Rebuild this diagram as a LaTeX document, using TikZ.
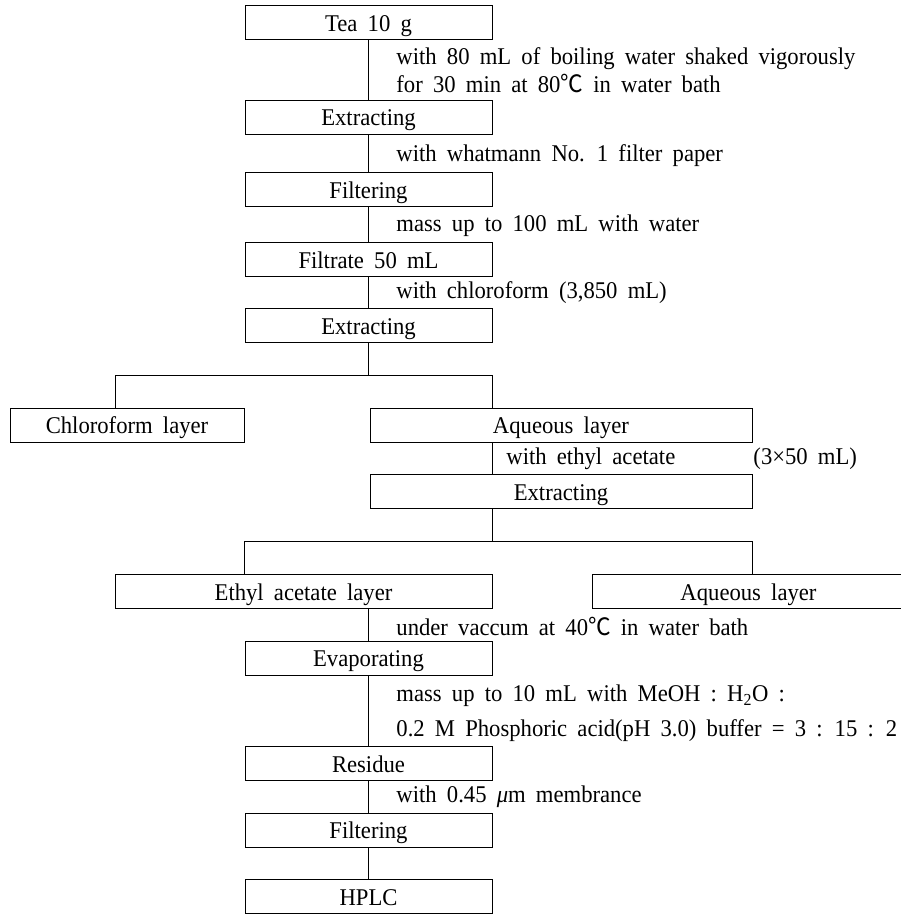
\documentclass[tikz,border=0pt]{standalone}
\usepackage{fontspec}
\setmainfont[WordSpace=1.8,FakeStretch=0.944]{Liberation Serif}
\newfontfamily\cjk[FakeStretch=0.944]{Noto Sans CJK SC}
\begin{document}
\begin{tikzpicture}[x=1pt,y=-1pt,line width=0.9pt,
  every node/.style={font=\fontsize{24}{26}\selectfont},
  box/.style={draw,rectangle,inner sep=0pt,minimum height=34pt,text height=19pt,text depth=2pt},
  mainbox/.style={box,minimum width=247pt},
  lbl/.style={anchor=west,inner sep=0pt}]
\useasboundingbox (0,0) rectangle (901,914);
% main column boxes
\node[mainbox] (tea)   at (368.5,22.5) {Tea 10 g};
\node[mainbox] (ext1)  at (368.5,117)  {Extracting};
\node[mainbox] (filt1) at (368.5,189.5){Filtering};
\node[mainbox] (filtr) at (368.5,259.5){Filtrate 50 mL};
\node[mainbox] (ext2)  at (368.5,325.5){Extracting};
\node[box,minimum width=234pt] (chl) at (127,425) {Chloroform layer};
\node[box,minimum width=382pt] (aq1) at (561,425) {Aqueous layer};
\node[box,minimum width=382pt] (ext3) at (561,491.5) {Extracting};
\node[box,minimum width=377pt] (eth) at (303.5,591.5) {Ethyl acetate layer};
\node[box,minimum width=313pt] (aq2) at (748.5,591.5) {Aqueous layer};
\node[mainbox] (evap)  at (368.5,658)  {Evaporating};
\node[mainbox] (res)   at (368.5,763.5){Residue};
\node[mainbox] (filt2) at (368.5,830)  {Filtering};
\node[mainbox] (hplc)  at (368.5,896.5){HPLC};
% connectors
\draw (tea) -- (ext1);
\draw (ext1) -- (filt1);
\draw (filt1) -- (filtr);
\draw (filtr) -- (ext2);
\coordinate (b1l) at (115,375);
\coordinate (b1r) at (492,375);
\draw (ext2.south) -- (ext2.south |- b1l);
\draw (chl.north -| b1l) -- (b1l) -- (b1r) -- (aq1.north -| b1r);
\draw (aq1.south -| b1r) -- (ext3.north -| b1r);
\coordinate (b2l) at (244,541);
\coordinate (b2r) at (752,541);
\draw (ext3.south -| b1r) -- (b2l -| b1r);
\draw (eth.north -| b2l) -- (b2l) -- (b2r) -- (aq2.north -| b2r);
\draw (eth.south -| evap) -- (evap);
\draw (evap) -- (res);
\draw (res) -- (filt2);
\draw (filt2) -- (hplc);
% labels
\node[lbl] (l1) at (396,59) {with 80 mL of boiling water shaked vigorously};
\node[lbl] (l2) at (396,83) {for 30 min at 80{\cjk ℃} in water bath};
\node[lbl] (l3) at (396,156) {with whatmann No. 1 filter paper};
\node[lbl] (l4) at (396,226) {mass up to 100 mL with water};
\node[lbl] (l5) at (396,293) {with chloroform (3,850 mL)};
\node[lbl] (l6) at (506,459) {with ethyl acetate};
\node[lbl] (l7) at (753,459) {(3×50 mL)};
\node[lbl] (l8) at (396,626) {under vaccum at 40{\cjk ℃} in water bath};
\node[lbl] (l9) at (396,696) {mass up to 10 mL with MeOH : H\textsubscript{2}O :};
\node[lbl] (l10) at (396,731) {0.2 M Phosphoric acid(pH 3.0) buffer = 3 : 15 : 2};
\node[lbl] (l11) at (396,797) {with 0.45 {\itshape μ}m membrance};
\end{tikzpicture}
\end{document}
